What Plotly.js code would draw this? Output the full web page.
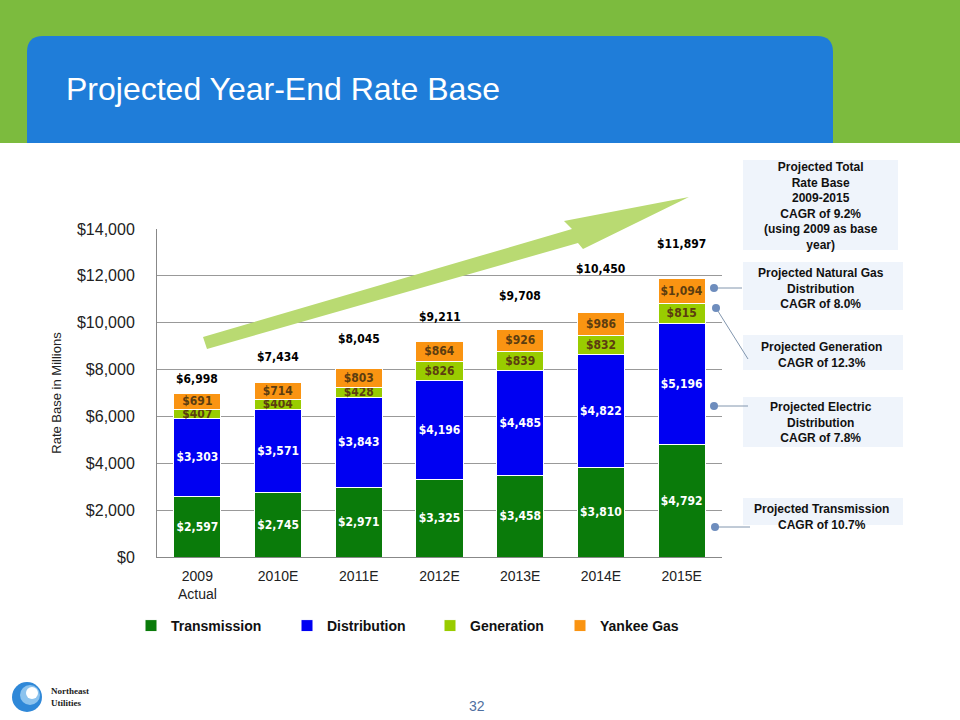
<!DOCTYPE html>
<html>
<head>
<meta charset="utf-8">
<script src="https://cdn.plot.ly/plotly-3.0.1.min.js"></script>
<style>html,body{margin:0;padding:0;background:#fff;}#chart{width:960px;height:720px;}</style>
</head>
<body>
<div id="chart"></div>
<script>
// ---- data ----
const categories = ['2009<br>Actual', '2010E', '2011E', '2012E', '2013E', '2014E', '2015E'];
const transmission = [2597, 2745, 2971, 3325, 3458, 3810, 4792];
const distribution = [3303, 3571, 3843, 4196, 4485, 4822, 5196];
const generation   = [407, 404, 428, 826, 839, 832, 815];
const yankeeGas    = [691, 714, 803, 864, 926, 986, 1094];
const yTickVals = [0, 2000, 4000, 6000, 8000, 10000, 12000, 14000];
const yTickText = ['$0', '$2,000', '$4,000', '$6,000', '$8,000', '$10,000', '$12,000', '$14,000'];
const cagrNotes = [
  'Projected Total<br>Rate Base<br>2009-2015<br>CAGR of 9.2%<br>(using 2009 as base<br>year)',
  'Projected Natural Gas<br>Distribution<br>CAGR of 8.0%',
  'Projected Generation<br>CAGR of 12.3%',
  'Projected Electric<br>Distribution<br>CAGR of 7.8%',
  'Projected Transmission<br>CAGR of 10.7%'
];

// ---- style / layout helpers ----
const totalLabelLift = [14, 26, 30, 24, 34, 43, 34];
const legendTextStart = [171, 327, 470, 600];
const L = 157, R = 722, T = 229, B = 557;
const X = px => (px - L) / (R - L);
const Y = py => (B - py) / (B - T);
const NARROW = '"Liberation Sans Narrow", "Arial Narrow", "DejaVu Sans Condensed", "Liberation Sans", Arial, sans-serif';
const SANS = '"Liberation Sans", Arial, sans-serif';

const totals = categories.map((c, i) => transmission[i] + distribution[i] + generation[i] + yankeeGas[i]);
const legendIds = ['legend', 'legend2', 'legend3', 'legend4'];

function barTrace(idx, name, vals, color, txtColor) {
  return {
    type: 'bar', name: name, x: categories, y: vals, legend: legendIds[idx],
    marker: {color: color, line: {color: '#ffffff', width: 1}},
    texttemplate: '$%{y:,}', textposition: 'inside', insidetextanchor: 'middle',
    textangle: 0, constraintext: 'none', cliponaxis: false,
    insidetextfont: {family: NARROW, size: 12, color: txtColor, weight: 'bold'},
    hoverinfo: 'skip'
  };
}

const data = [
  barTrace(0, 'Transmission', transmission, '#0a7b0a', '#ffffff'),
  barTrace(1, 'Distribution', distribution, '#0000f2', '#ffffff'),
  barTrace(2, 'Generation', generation, '#99cc00', '#5c3d10'),
  barTrace(3, 'Yankee Gas', yankeeGas, '#fa9412', '#5c3d10')
];

function rectPx(x0, y0, x1, y1, fill, layer) {
  return {type: 'rect', xref: 'paper', yref: 'paper', x0: X(x0), x1: X(x1), y0: Y(y1), y1: Y(y0),
          fillcolor: fill, line: {width: 0}, layer: layer || 'below'};
}
function pathPx(pts, close) {
  let d = pts.map((p, i) => (i ? 'L' : 'M') + X(p[0]).toFixed(5) + ',' + Y(p[1]).toFixed(5)).join(' ');
  if (close) d += ' Z';
  return d;
}

const shapes = [];
// header
shapes.push(rectPx(0, 0, 960, 143, '#7cbb3e'));
const hb = {l: 27, r: 833, t: 36, b: 143, rad: 16};
shapes.push({type: 'path', xref: 'paper', yref: 'paper', layer: 'below', fillcolor: '#1f7dd9', line: {width: 0},
  path: 'M' + X(hb.l) + ',' + Y(hb.b) + ' L' + X(hb.l) + ',' + Y(hb.t + hb.rad) +
        ' Q' + X(hb.l) + ',' + Y(hb.t) + ' ' + X(hb.l + hb.rad) + ',' + Y(hb.t) +
        ' L' + X(hb.r - hb.rad) + ',' + Y(hb.t) +
        ' Q' + X(hb.r) + ',' + Y(hb.t) + ' ' + X(hb.r) + ',' + Y(hb.t + hb.rad) +
        ' L' + X(hb.r) + ',' + Y(hb.b) + ' Z'});
// big arrow
shapes.push({type: 'path', xref: 'paper', yref: 'paper', layer: 'above', fillcolor: '#b9da72', line: {width: 0},
  path: pathPx([[203, 337], [572, 229], [564, 221], [689, 197], [583, 249], [578, 243], [207, 349]], true)});
// note boxes
const boxes = [[743, 160, 898, 250], [743, 262, 903, 310], [743, 335, 903, 370], [743, 397, 903, 447], [743, 498, 903, 525]];
boxes.forEach(b => shapes.push(rectPx(b[0], b[1], b[2], b[3], '#eff4fb')));
// connectors
const conn = [[[714, 288], [742, 288]], [[716, 308], [748, 359]], [[714, 406], [748, 406]], [[715, 527], [750, 527]]];
conn.forEach(c => {
  shapes.push({type: 'line', xref: 'paper', yref: 'paper', layer: 'above', x0: X(c[0][0]), y0: Y(c[0][1]), x1: X(c[1][0]), y1: Y(c[1][1]),
               line: {color: '#8296ae', width: 1}});
  shapes.push({type: 'circle', xref: 'paper', yref: 'paper', layer: 'above', x0: X(c[0][0] - 4), x1: X(c[0][0] + 4), y0: Y(c[0][1] + 4), y1: Y(c[0][1] - 4),
               fillcolor: '#6e8dbd', line: {width: 0}});
});
// logo
shapes.push({type: 'circle', xref: 'paper', yref: 'paper', layer: 'above', x0: X(12), x1: X(42), y0: Y(712), y1: Y(682), fillcolor: '#2f88d8', line: {width: 0}});
shapes.push({type: 'circle', xref: 'paper', yref: 'paper', layer: 'above', x0: X(20), x1: X(40), y0: Y(705), y1: Y(685), fillcolor: '#8cc3ee', line: {width: 0}});
shapes.push({type: 'circle', xref: 'paper', yref: 'paper', layer: 'above', x0: X(26), x1: X(38), y0: Y(699), y1: Y(687), fillcolor: '#ffffff', line: {width: 0}});

const annotations = [];
// title
annotations.push({xref: 'paper', yref: 'paper', x: X(64), y: Y(89), xanchor: 'left', yanchor: 'middle', showarrow: false,
  text: 'Projected Year-End Rate Base', font: {family: SANS, size: 32, color: '#ffffff'}});
// totals
categories.forEach((c, i) => annotations.push({x: c, y: totals[i], yshift: totalLabelLift[i], xref: 'x', yref: 'y',
  yanchor: 'middle', showarrow: false, text: '$' + totals[i].toLocaleString('en-US'),
  font: {family: NARROW, size: 12, color: '#000000', weight: 'bold'}}));
// notes
const noteCenters = [206, 288, 355, 422, 517];
cagrNotes.forEach((t, i) => annotations.push({xref: 'paper', yref: 'paper', x: X(821), y: Y(noteCenters[i]),
  xanchor: 'center', yanchor: 'middle', showarrow: false, align: 'center', text: t,
  font: {family: SANS, size: 12, color: '#111111', weight: 'bold'}}));
// logo text & page number
annotations.push({xref: 'paper', yref: 'paper', x: X(49), y: Y(697), xanchor: 'left', yanchor: 'middle', showarrow: false, align: 'left',
  text: 'Northeast<br>Utilities', font: {family: '"Liberation Serif", serif', size: 9, color: '#222222', weight: 'bold'}});
annotations.push({xref: 'paper', yref: 'paper', x: X(477), y: Y(706), xanchor: 'center', yanchor: 'middle', showarrow: false,
  text: '32', font: {family: SANS, size: 14, color: '#4f6fa0'}});

const layout = {
  width: 960, height: 720,
  margin: {l: L, r: 960 - R, t: T, b: 720 - B, pad: 0},
  paper_bgcolor: '#ffffff', plot_bgcolor: '#ffffff',
  barmode: 'stack', bargap: 0.415,
  showlegend: true,
  xaxis: {type: 'category', showgrid: false, showline: true, linecolor: '#888888', linewidth: 1,
          ticks: '', ticklabelstandoff: 6, tickfont: {family: SANS, size: 14, color: '#222222'}, fixedrange: true},
  yaxis: {range: [0, 14000], tickmode: 'array', tickvals: yTickVals, ticktext: yTickText,
          showgrid: true, gridcolor: '#999999', gridwidth: 1, showline: true, linecolor: '#888888', linewidth: 1,
          zeroline: false, ticks: '', ticklabelstandoff: 18,
          tickfont: {family: SANS, size: 16, color: '#222222'},
          title: {text: 'Rate Base in Millions', standoff: 12, font: {family: SANS, size: 13, color: '#222222'}}},
  shapes: shapes,
  annotations: annotations
};
legendIds.forEach((id, i) => {
  layout[id] = {orientation: 'h', x: X(legendTextStart[i] - 40), xanchor: 'left', y: Y(626), yanchor: 'middle',
                bgcolor: 'rgba(0,0,0,0)', font: {family: SANS, size: 14, color: '#111111', weight: 'bold'}};
});

Plotly.newPlot('chart', data, layout, {displayModeBar: false, staticPlot: true});
</script>
</body>
</html>
